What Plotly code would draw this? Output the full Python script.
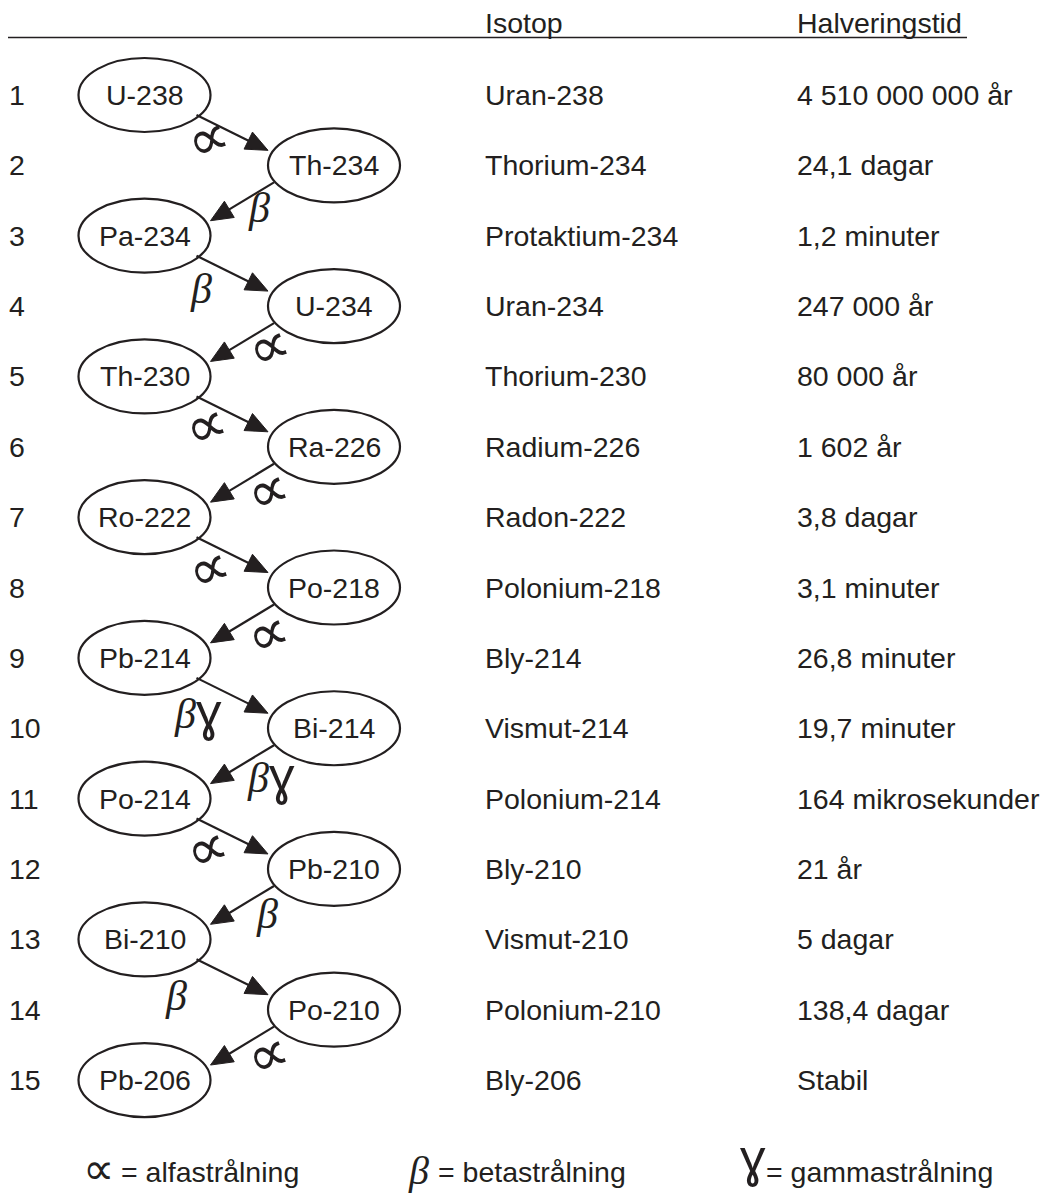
import plotly.graph_objects as go

# ---------------- data ----------------
row_numbers = [str(i) for i in range(1, 16)]
nuclides = ["U-238", "Th-234", "Pa-234", "U-234", "Th-230", "Ra-226", "Ro-222", "Po-218",
            "Pb-214", "Bi-214", "Po-214", "Pb-210", "Bi-210", "Po-210", "Pb-206"]
isotope_names = ["Uran-238", "Thorium-234", "Protaktium-234", "Uran-234", "Thorium-230",
                 "Radium-226", "Radon-222", "Polonium-218", "Bly-214", "Vismut-214",
                 "Polonium-214", "Bly-210", "Vismut-210", "Polonium-210", "Bly-206"]
half_lives = ["4 510 000 000 år", "24,1 dagar", "1,2 minuter", "247 000 år", "80 000 år",
              "1 602 år", "3,8 dagar", "3,1 minuter", "26,8 minuter", "19,7 minuter",
              "164 mikrosekunder", "21 år", "5 dagar", "138,4 dagar", "Stabil"]
decay_modes = ["a", "b", "b", "a", "a", "a", "a", "a", "bg", "bg", "a", "b", "b", "a"]
header_labels = ["Isotop", "Halveringstid"]
legend_symbols = ["a", "b", "g"]
legend_labels = ["= alfastrålning", "= betastrålning", "= gammastrålning"]

# ---------------- layout constants ----------------
W, H = 1051, 1194
INK = "#231f20"
FONT = "Liberation Sans, Arial, Helvetica, sans-serif"
FS = 28.5
ROW0, DY = 95.0, 70.36
X_NUM, X_LEFT, X_RIGHT, X_ISO, X_HALF = 9, 144.5, 334.0, 485, 797
RX, RY = 66, 37
HEAD_Y, LINE_Y = 23, 37.5
LEG_Y = 1172

sym_pos = [(207, 138), (259, 212), (201, 293), (268, 346), (205, 425), (267, 490),
           (208, 568), (267, 633), (195, 718), (268, 782), (206, 848), (267, 918),
           (176, 1000), (267, 1054)]

def row_y(i):
    return ROW0 + i * DY

def node_x(i):
    return X_LEFT if i % 2 == 0 else X_RIGHT

fig = go.Figure()
shapes = []
ann = []

def text(x, y, s, size=FS, xanchor="left", font=FONT, angle=0):
    ann.append(dict(x=x, y=y, xref="x", yref="y", text=s, showarrow=False,
                    xanchor=xanchor, yanchor="middle", borderpad=0, borderwidth=0,
                    textangle=angle,
                    font=dict(family=font, size=size, color=INK)))

# header
for lab, x in zip(header_labels, [X_ISO, X_HALF]):
    text(x, HEAD_Y, lab)
shapes.append(dict(type="line", xref="x", yref="y", x0=8, x1=967, y0=LINE_Y, y1=LINE_Y,
                   line=dict(color=INK, width=1.6)))

# rows
for i in range(len(nuclides)):
    y = row_y(i)
    cx = node_x(i)
    text(X_NUM, y, row_numbers[i])
    shapes.append(dict(type="circle", xref="x", yref="y", x0=cx - RX, x1=cx + RX,
                       y0=y - RY, y1=y + RY, line=dict(color=INK, width=2.2)))
    text(cx, y, nuclides[i], xanchor="center")
    text(X_ISO, y, isotope_names[i])
    text(X_HALF, y, half_lives[i])

# arrows
shaft_x, shaft_y, head_x, head_y = [], [], [], []
HL, HW = 22, 9.5
for i in range(len(nuclides) - 1):
    y0, y1 = row_y(i), row_y(i + 1)
    if i % 2 == 0:
        sx, sy = X_LEFT + 52, y0 + 20
        tx, ty = X_RIGHT - 66, y1 - 15
    else:
        sx, sy = X_RIGHT - 60, y0 + 17
        tx, ty = X_LEFT + 66, y1 - 15
    dx, dy = tx - sx, ty - sy
    L = (dx * dx + dy * dy) ** 0.5
    ux, uy = dx / L, dy / L
    bx, by = tx - HL * ux, ty - HL * uy
    px, py = -uy, ux
    shaft_x += [sx, bx + ux * 2, None]
    shaft_y += [sy, by + uy * 2, None]
    head_x += [tx, bx + HW * px, bx - HW * px, tx, None]
    head_y += [ty, by + HW * py, by - HW * py, ty, None]

fig.add_trace(go.Scatter(x=shaft_x, y=shaft_y, mode="lines",
                         line=dict(color=INK, width=2.2), hoverinfo="skip"))
fig.add_trace(go.Scatter(x=head_x, y=head_y, mode="lines", fill="toself",
                         fillcolor=INK, line=dict(color=INK, width=1), hoverinfo="skip"))

# radiation symbols (glyph centre placed at (x, y))
GLYPH = {"a": "∝", "b": "β", "g": "ɣ"}

def draw_symbol(x, y, code, size=None, angle=-20):
    if code == "a":
        text(x, y, GLYPH["a"], size=size or 58, xanchor="center", font="DejaVu Sans",
             angle=angle)
    elif code == "b":
        s = size or 42
        text(x, y - 0.09 * s, "<i>" + GLYPH["b"] + "</i>", size=s, xanchor="center",
             font="Liberation Serif")
    elif code == "g":
        s = size or 50
        text(x, y - 0.24 * s, GLYPH["g"], size=s, xanchor="center", font="Noto Sans")

for (x, y), mode in zip(sym_pos, decay_modes):
    if mode == "bg":
        draw_symbol(x - 10, y, "b")
        draw_symbol(x + 14, y + 4, "g")
    else:
        draw_symbol(x, y, mode)

# legend
leg_sym_x = [98, 418, 753]
leg_text_x = [121, 438, 766]
leg_sym_y = [1168, 1174, 1168]
leg_sym_size = [44, 40, 50]
for sx, sy, ss, tx, code, lab in zip(leg_sym_x, leg_sym_y, leg_sym_size, leg_text_x,
                                     legend_symbols, legend_labels):
    draw_symbol(sx, sy, code, size=ss, angle=0)
    text(tx, LEG_Y, lab)

fig.update_layout(
    width=W, height=H, autosize=False,
    margin=dict(l=0, r=0, t=0, b=0),
    paper_bgcolor="white", plot_bgcolor="white",
    showlegend=False,
    xaxis=dict(range=[0, W], visible=False, fixedrange=True),
    yaxis=dict(range=[H, 0], visible=False, fixedrange=True),
    shapes=shapes, annotations=ann,
)

fig.write_html("out.html", config={"displayModeBar": False},
               post_script="document.body.style.margin='0';document.documentElement.style.overflow='hidden';")
